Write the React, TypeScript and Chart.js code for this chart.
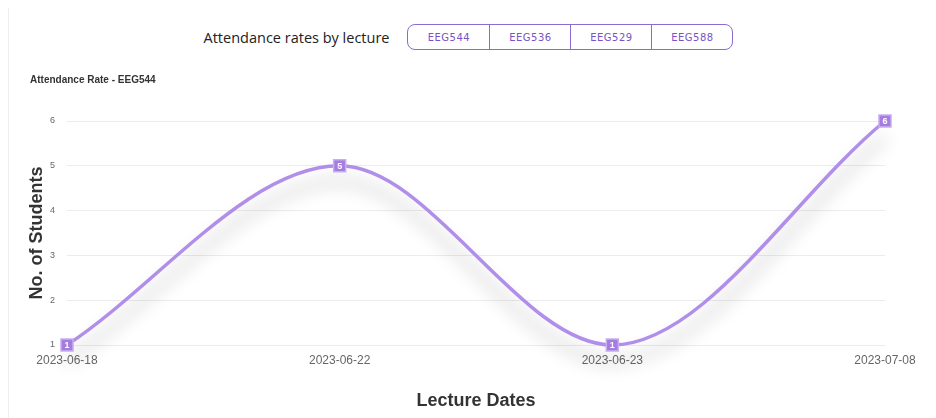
import React, { useEffect, useRef } from "react";
import { Chart, registerables } from "chart.js";

Chart.register(...registerables);

const lectureDates = ["2023-06-18", "2023-06-22", "2023-06-23", "2023-07-08"];
const studentCounts = [1, 5, 1, 6];
const lectureCodes = ["EEG544", "EEG536", "EEG529", "EEG588"];
const chartTitle = "Attendance Rate - EEG544";
const headerLabel = "Attendance rates by lecture";

const LINE = "rgba(172,136,232,0.95)";
const POINT_FILL = "#a47ddf";
const POINT_BORDER = "#c6aef0";

const shadowPlugin = {
  id: "lineShadow",
  beforeDatasetDraw(chart: any, args: any) {
    if (args.index === 1) {
      const ctx = chart.ctx;
      ctx.save();
      ctx.shadowColor = "rgba(0,0,0,0.34)";
      ctx.shadowBlur = 18;
      ctx.shadowOffsetX = 0;
      ctx.shadowOffsetY = 16;
    }
  },
  afterDatasetDraw(chart: any, args: any) {
    if (args.index === 1) {
      chart.ctx.restore();
    }
  },
};

const valueLabelPlugin = {
  id: "valueLabels",
  afterDatasetsDraw(chart: any) {
    const meta = chart.getDatasetMeta(0);
    const ctx = chart.ctx;
    ctx.save();
    ctx.fillStyle = "#ffffff";
    ctx.font = "bold 9px Arial";
    ctx.textAlign = "center";
    ctx.textBaseline = "middle";
    meta.data.forEach((pt: any, i: number) => {
      ctx.fillText(String(studentCounts[i]), pt.x, pt.y + 0.5);
    });
    ctx.restore();
  },
};

export default function App() {
  const canvasRef = useRef<HTMLCanvasElement | null>(null);

  useEffect(() => {
    if (!canvasRef.current) return;
    const chart = new Chart(canvasRef.current, {
      type: "line",
      data: {
        labels: lectureDates,
        datasets: [
          {
            label: "points",
            data: studentCounts,
            showLine: false,
            pointStyle: "rect",
            pointRadius: 8.5,
            pointBorderWidth: 1.5,
            pointBackgroundColor: POINT_FILL,
            pointBorderColor: POINT_BORDER,
            clip: false as any,
          },
          {
            label: "line",
            data: studentCounts,
            borderColor: LINE,
            borderWidth: 3.5,
            pointRadius: 0,
            cubicInterpolationMode: "monotone",
            fill: false,
            clip: false as any,
          },
        ],
      },
      options: {
        animation: false,
        responsive: false,
        maintainAspectRatio: false,
        layout: { padding: { left: 21, right: 43, top: 0, bottom: 2 } },
        plugins: {
          legend: { display: false },
          tooltip: { enabled: false },
          title: {
            display: true,
            text: chartTitle,
            align: "start",
            color: "#333",
            font: { family: "Arial", size: 10, weight: "bold" },
            padding: { top: 14, bottom: 35 },
          },
        },
        scales: {
          x: {
            grid: { display: false, drawTicks: false },
            border: { display: false },
            ticks: {
              color: "#666",
              font: { family: "Arial", size: 12 },
              padding: 8,
              maxRotation: 0,
            },
            title: {
              display: true,
              text: "Lecture Dates",
              color: "#333",
              font: { family: "Arial", size: 18, weight: "bold" },
              padding: { top: 15, bottom: 4 },
            },
          },
          y: {
            min: 1,
            max: 6,
            grid: { color: "#ececec", drawTicks: false },
            border: { display: false },
            afterFit: (scale: any) => {
              scale.width = 37;
            },
            ticks: {
              stepSize: 1,
              color: "#666",
              font: { family: "Arial", size: 9 },
              padding: 12,
            },
            title: {
              display: true,
              text: "No. of Students",
              color: "#333",
              font: { family: "Arial", size: 18, weight: "bold" },
              padding: { top: -4, bottom: 4 },
            },
          },
        },
      },
      plugins: [shadowPlugin, valueLabelPlugin],
    });
    return () => chart.destroy();
  }, []);

  return (
    <div
      style={{
        width: 920,
        height: 410,
        borderLeft: "1px solid #eeeeee",
        boxSizing: "border-box",
        fontFamily: "'Open Sans', Arial, sans-serif",
      }}
    >
      <div
        style={{
          height: 52,
          paddingTop: 6,
          boxSizing: "border-box",
          display: "flex",
          alignItems: "center",
          justifyContent: "center",
        }}
      >
        <span style={{ fontSize: 14.5, color: "#222", marginRight: 18 }}>{headerLabel}</span>
        <div
          style={{
            display: "flex",
            border: "1.5px solid #8c6ad0",
            borderRadius: 8,
            height: 26,
            boxSizing: "border-box",
            overflow: "hidden",
          }}
        >
          {lectureCodes.map((c, i) => (
            <div
              key={c}
              style={{
                width: 81,
                display: "flex",
                alignItems: "center",
                justifyContent: "center",
                fontFamily: "'DejaVu Sans', sans-serif",
                fontSize: 10,
                letterSpacing: 0.5,
                color: "#7a52c7",
                borderLeft: i === 0 ? "none" : "1.5px solid #8c6ad0",
                boxSizing: "border-box",
              }}
            >
              {c}
            </div>
          ))}
        </div>
      </div>
      <canvas ref={canvasRef} width={919} height={358} style={{ display: "block" }} />
    </div>
  );
}
